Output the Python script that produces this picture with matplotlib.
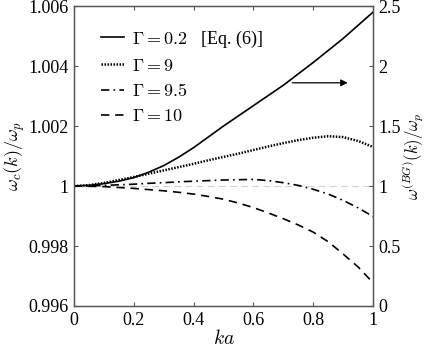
import matplotlib
matplotlib.use("Agg")
import matplotlib.pyplot as plt

plt.rcParams["font.family"] = ["Liberation Serif", "DejaVu Serif"]
plt.rcParams["mathtext.fontset"] = "cm"
plt.rcParams["font.size"] = 13

# ka grid (values every 0.05)
ka = [0.0, 0.05, 0.1, 0.15, 0.2, 0.25, 0.3, 0.35, 0.4, 0.45, 0.5,
      0.55, 0.6, 0.65, 0.7, 0.75, 0.8, 0.85, 0.9, 0.95, 1.0]

# Gamma = 0.2, Eq. (6) -> right axis omega^(BG)/omega_p
w_bg = [1.0, 1.005, 1.02, 1.04, 1.07, 1.115, 1.17, 1.24, 1.32, 1.41, 1.50,
        1.585, 1.67, 1.755, 1.84, 1.935, 2.03, 2.13, 2.23, 2.34, 2.45]
# left axis omega_c/omega_p
w_g9 = [1.0, 1.00003, 1.0001, 1.0002, 1.0003, 1.00041, 1.00052, 1.00063,
        1.00074, 1.00086, 1.00097, 1.00108, 1.0012, 1.00132, 1.00143,
        1.00153, 1.00161, 1.00166, 1.00163, 1.0015, 1.0013]
w_g95 = [1.0, 1.00001, 1.00002, 1.00004, 1.00006, 1.00009, 1.00011, 1.00014,
         1.00016, 1.00018, 1.0002, 1.00021, 1.00022, 1.00018, 1.00011,
         1.00002, 0.99989, 0.99973, 0.99952, 0.99927, 0.99898]
w_g10 = [1.0, 0.99999, 0.99998, 0.99995, 0.99992, 0.99988, 0.99984, 0.99979,
         0.99973, 0.99965, 0.99956, 0.99943, 0.99928, 0.9991, 0.99891,
         0.9987, 0.99846, 0.99814, 0.99773, 0.9973, 0.99677]

xticks = [0, 0.2, 0.4, 0.6, 0.8, 1.0]
xticklabels = ["0", "0.2", "0.4", "0.6", "0.8", "1"]
lticks = [0.996, 0.998, 1.0, 1.002, 1.004, 1.006]
lticklabels = ["0.996", "0.998", "1", "1.002", "1.004", "1.006"]
rticks = [0, 0.5, 1.0, 1.5, 2.0, 2.5]
rticklabels = ["0", "0.5", "1", "1.5", "2", "2.5"]

spine_col = "#555555"

fig = plt.figure(figsize=(4.25, 3.48), dpi=100)
ax = fig.add_axes([0.174, 0.1207, 0.704, 0.862])
ax2 = ax.twinx()

ax.axhline(1.0, color="#d0d0d0", lw=0.8, ls=(0, (6, 4)), zorder=0)

h2, = ax.plot(ka, w_g9, color="black", lw=1.8, ls=(0, (0.6, 0.6)))
h3, = ax.plot(ka, w_g95, color="black", lw=1.2, ls=(0, (5, 2.5, 1, 2.5)))
h4, = ax.plot(ka, w_g10, color="black", lw=1.2, ls=(0, (5, 3.5)))
h1, = ax2.plot(ka, w_bg, color="black", lw=1.2)

ax.set_xlim(0, 1)
ax.set_ylim(0.996, 1.006)
ax2.set_ylim(0, 2.5)

ax.set_xticks(xticks)
ax.set_xticklabels(xticklabels)
ax.set_yticks(lticks)
ax.set_yticklabels(lticklabels)
ax2.set_yticks(rticks)
ax2.set_yticklabels(rticklabels)

ax.tick_params(direction="in", length=3, color=spine_col, top=True, right=False,
               pad=4)
ax2.tick_params(direction="in", length=3, color=spine_col, pad=4)
for a in (ax, ax2):
    for s in a.spines.values():
        s.set_color(spine_col)
        s.set_linewidth(0.9)

ax.set_xlabel("$ka$", fontsize=14, labelpad=0)
ax.set_ylabel(r"$\omega_c(k)/\omega_p$", fontsize=13, labelpad=1)
ax2.set_ylabel(r"$\omega^{(BG)}(k)/\omega_p$", fontsize=12, labelpad=0)

ax.annotate("", xy=(0.915, 1.00344), xytext=(0.73, 1.00344),
            arrowprops=dict(arrowstyle="-|>", color="black", lw=0.9,
                            mutation_scale=10, shrinkA=0, shrinkB=0))

ax2.legend([h1, h2, h3, h4],
           [r"$\Gamma = 0.2$   [Eq. (6)]", r"$\Gamma = 9$", r"$\Gamma = 9.5$",
            r"$\Gamma = 10$"],
           loc="upper left", bbox_to_anchor=(0.09, 0.925), frameon=False,
           borderpad=0, borderaxespad=0, handlelength=1.3, handletextpad=0.4,
           labelspacing=0.45, fontsize=13)

fig.savefig("out.png", dpi=100)
